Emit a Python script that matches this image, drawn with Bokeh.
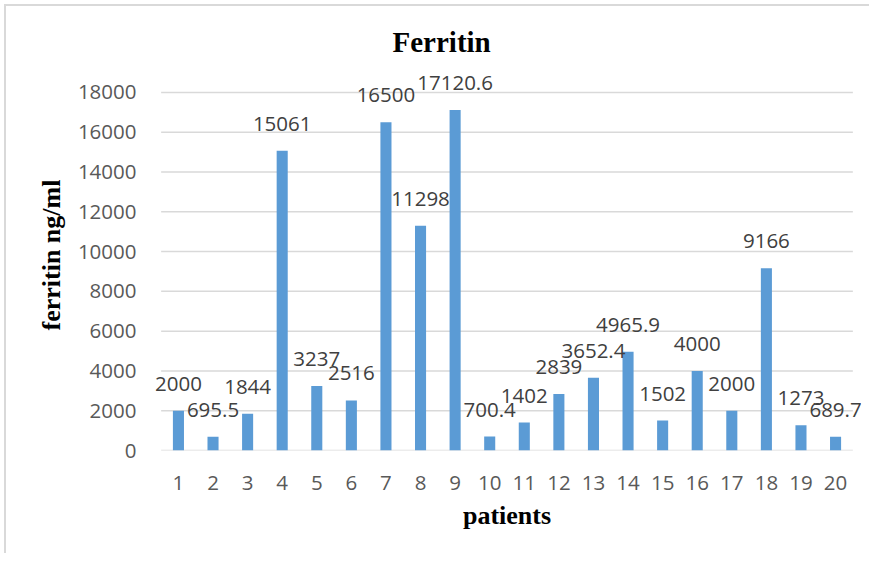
from bokeh.plotting import figure
from bokeh.models import Range1d, FixedTicker, Title, ColumnDataSource
from bokeh.core.properties import value
from bokeh.embed import file_html
from bokeh.resources import INLINE

patients = list(range(1, 21))
ferritin = [2000, 695.5, 1844, 15061, 3237, 2516, 16500, 11298, 17120.6, 700.4,
            1402, 2839, 3652.4, 4965.9, 1502, 4000, 2000, 9166, 1273, 689.7]
value_labels = ["2000", "695.5", "1844", "15061", "3237", "2516", "16500", "11298", "17120.6", "700.4",
                "1402", "2839", "3652.4", "4965.9", "1502", "4000", "2000", "9166", "1273", "689.7"]
y_ticks = [0, 2000, 4000, 6000, 8000, 10000, 12000, 14000, 16000, 18000]

title_text = "Ferritin"
x_title = "patients"
y_title = "ferritin ng/ml"

src = ColumnDataSource(dict(x=patients, top=ferritin, lbl=value_labels))
grid_src = ColumnDataSource(dict(y=y_ticks, x0=[patients[0] - 0.5] * len(y_ticks),
                                 x1=[patients[-1] + 0.5] * len(y_ticks)))

p = figure(width=865, height=549, output_backend="svg", toolbar_location=None,
           x_range=Range1d(0.25, 20.75), y_range=Range1d(0, 19000),
           min_border_left=146, min_border_right=10, min_border_top=66, min_border_bottom=105)
p.styles = {"margin-left": "4px", "margin-top": "4px",
            "border-top": "2px solid #d9d9d9", "border-left": "2px solid #d9d9d9"}
p.outline_line_color = None
p.background_fill_color = "white"
p.border_fill_color = "white"

# horizontal gridlines at the y ticks, spanning the category area
p.segment(x0="x0", x1="x1", y0="y", y1="y", source=grid_src, line_color="#d9d9d9", line_width=1.5)

p.vbar(x="x", top="top", width=0.32, source=src, fill_color="#5B9BD5", line_color=None)
p.text(x="x", y="top", text="lbl", source=src, text_align="center", text_baseline="alphabetic",
       y_offset=-27, text_font=value("Open Sans"), text_font_size=value("20.5px"),
       text_color="#404040")

p.xgrid.grid_line_color = None
p.ygrid.grid_line_color = None
p.yaxis.ticker = FixedTicker(ticks=y_ticks)
p.xaxis.ticker = FixedTicker(ticks=patients)

for ax in (p.xaxis[0], p.yaxis[0]):
    ax.axis_line_color = None
    ax.major_tick_line_color = None
    ax.minor_tick_line_color = None
    ax.major_tick_out = 0
    ax.major_tick_in = 0
    ax.minor_tick_out = 0
    ax.minor_tick_in = 0
    ax.major_label_text_font = "Open Sans"
    ax.major_label_text_font_size = "20.5px"
    ax.major_label_text_color = "#595959"
p.yaxis.major_label_standoff = 16
p.xaxis.major_label_standoff = 25

serif = "Liberation Serif"
p.xaxis.axis_label = x_title
p.xaxis.axis_label_text_font = serif
p.xaxis.axis_label_text_font_style = "bold"
p.xaxis.axis_label_text_font_size = "26px"
p.xaxis.axis_label_text_color = "black"
p.xaxis.axis_label_standoff = 8

p.title = Title(text=title_text, align="left", offset=240, standoff=29,
                text_font=serif, text_font_style="bold", text_font_size="29px", text_color="black")
p.add_layout(Title(text=y_title, align="left", offset=120, standoff=18,
                   text_font=serif, text_font_style="bold", text_font_size="26px", text_color="black"),
             "left")

open("out.html", "w").write(file_html(p, INLINE))
